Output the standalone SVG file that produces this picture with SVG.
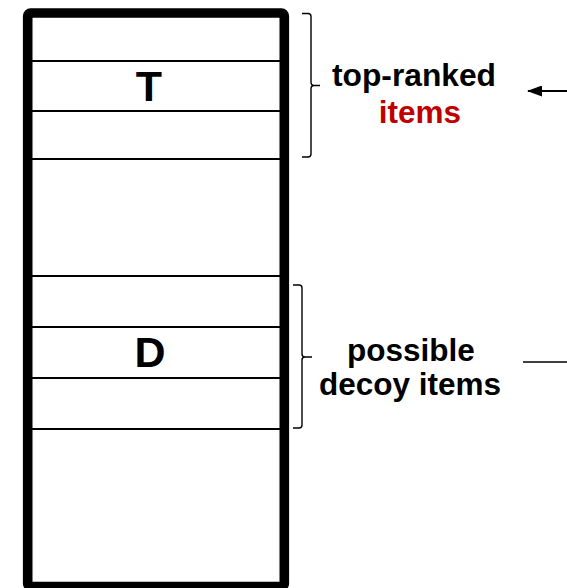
<svg xmlns="http://www.w3.org/2000/svg" width="567" height="588" viewBox="0 0 567 588">
<defs>
<style>
.row{stroke:#000;stroke-width:2.2;fill:none}
.br{stroke:#000;stroke-width:1.4;fill:none}
.lbl{font-family:"Liberation Sans",Arial,sans-serif;font-weight:bold;font-size:31.5px;text-anchor:middle}
.big{font-family:"Liberation Sans",Arial,sans-serif;font-weight:bold;font-size:43px;text-anchor:middle}
</style>
<marker id="ah" viewBox="0 0 15 11" refX="14" refY="5.5" markerWidth="15" markerHeight="11" markerUnits="userSpaceOnUse" orient="auto">
<path d="M0,0 L15,5.5 L0,11 Z" fill="#000"/>
</marker>
</defs>
<rect width="567" height="588" fill="#fff"/>
<g id="list">
<rect x="27.7" y="13" width="256.6" height="573.5" rx="3" fill="#fff" stroke="#000" stroke-width="9.6"/>
<line class="row" x1="32" y1="61" x2="280" y2="61"/>
<line class="row" x1="32" y1="111" x2="280" y2="111"/>
<line class="row" x1="32" y1="159" x2="280" y2="159"/>
<line class="row" x1="32" y1="276" x2="280" y2="276"/>
<line class="row" x1="32" y1="327" x2="280" y2="327"/>
<line class="row" x1="32" y1="378" x2="280" y2="378"/>
<line class="row" x1="32" y1="429" x2="280" y2="429"/>
<text class="big" x="149" y="101">T</text>
<text class="big" x="150" y="367">D</text>
</g>
<g id="top-ranked">
<path class="br" d="M302,13.5 H308 Q311,13.5 311,16.5 V82 Q311,85.5 314,85.5 H320 M314,85.5 Q311,85.5 311,89 V154 Q311,157 308,157 H302"/>
<text class="lbl" x="414" y="86" textLength="164" lengthAdjust="spacingAndGlyphs">top-ranked</text>
<text class="lbl" x="420" y="123" fill="#c00000">items</text>
</g>
<g id="decoy">
<path class="br" d="M293,285 H299 Q302,285 302,288 V354 Q302,357 305,357 H312 M305,357 Q302,357 302,360 V425 Q302,428 299,428 H293"/>
<text class="lbl" x="411" y="361">possible</text>
<text class="lbl" x="410" y="395">decoy items</text>
</g>
<g id="connectors">
<line x1="567" y1="91" x2="528" y2="91" stroke="#000" stroke-width="2" marker-end="url(#ah)"/>
<line x1="523" y1="362" x2="567" y2="362" stroke="#000" stroke-width="1.6"/>
</g>
</svg>
